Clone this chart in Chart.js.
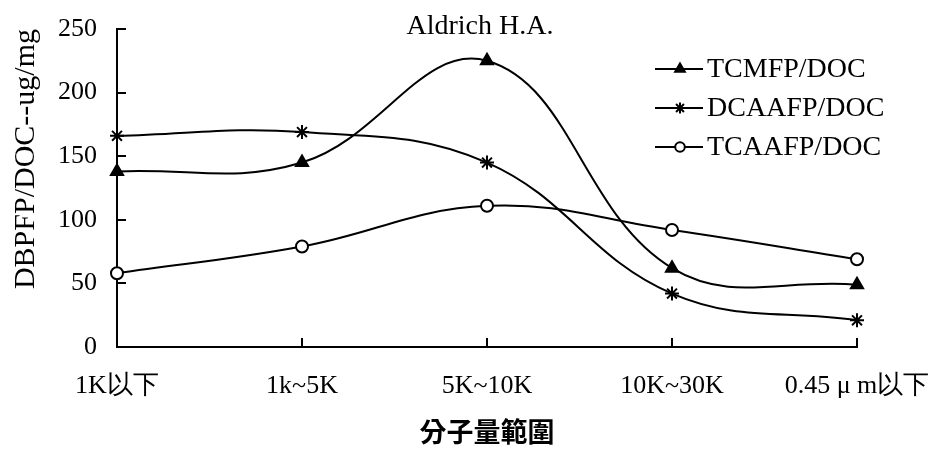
<!DOCTYPE html>
<html>
<head>
<meta charset="utf-8">
<script src="https://cdn.jsdelivr.net/npm/chart.js@4/dist/chart.umd.min.js"></script>
<style>
  html, body { margin: 0; padding: 0; background: #fff; }
  #wrap { width: 935px; height: 452px; }
</style>
</head>
<body>
<div id="wrap"><canvas id="c" width="935" height="452"></canvas></div>
<script>
// Molecular-weight fractions
const categories = ['1K以下', '1k~5K', '5K~10K', '10K~30K', '0.45 \u03bc m以下'];

// Formation potential per unit DOC (ug/mg)
const tcmfp  = [138, 145, 225, 62, 49];
const dcaafp = [166, 169, 145, 42, 21];
const tcaafp = [58, 79, 111, 92, 69];

const yTicks = [0, 50, 100, 150, 200, 250];

const chartTitle = 'Aldrich H.A.';
const yTitle = 'DBPFP/DOC--ug/mg';
const xTitle = '分子量範圍';

const serif = '"Liberation Serif", "DejaVu Serif", serif';

// Title text drawn above the plot
const titlePlugin = {
  id: 'plotTitle',
  afterDraw(chart) {
    const ctx = chart.ctx;
    ctx.save();
    ctx.fillStyle = '#000';
    ctx.font = '28px ' + serif;
    ctx.textAlign = 'center';
    ctx.textBaseline = 'alphabetic';
    ctx.fillText(chartTitle, 480, 34);
    ctx.restore();
  }
};

// Short tick marks pointing into the plot
const innerTicks = {
  id: 'innerTicks',
  afterDraw(chart) {
    const ctx = chart.ctx;
    const xs = chart.scales.x, ys = chart.scales.y;
    const area = chart.chartArea;
    ctx.save();
    ctx.strokeStyle = '#000';
    ctx.lineWidth = 2;
    ctx.beginPath();
    ys.ticks.forEach(t => {
      const py = Math.round(ys.getPixelForValue(t.value));
      ctx.moveTo(area.left, py);
      ctx.lineTo(area.left + 9, py);
    });
    categories.forEach((c, i) => {
      const px = Math.round(xs.getPixelForValue(i));
      ctx.moveTo(px, area.bottom);
      ctx.lineTo(px, area.bottom - 9);
    });
    ctx.stroke();
    ctx.restore();
  }
};

// Legend with line + marker samples, placed in the upper right of the plot
const lineLegend = {
  id: 'lineLegend',
  afterDraw(chart) {
    const ctx = chart.ctx;
    const rows = [69, 108, 147];
    ctx.save();
    chart.data.datasets.forEach((ds, i) => {
      const y = rows[i];
      ctx.strokeStyle = '#000';
      ctx.lineWidth = 2;
      ctx.beginPath();
      ctx.moveTo(655, y);
      ctx.lineTo(703, y);
      ctx.stroke();
      ctx.fillStyle = ds.pointBackgroundColor;
      ctx.strokeStyle = '#000';
      ctx.lineWidth = ds.pointBorderWidth;
      Chart.helpers.drawPoint(ctx, {
        pointStyle: ds.pointStyle,
        rotation: 0,
        radius: ds.pointRadius * 0.8,
        borderWidth: ds.pointBorderWidth
      }, 680, y);
      ctx.fillStyle = '#000';
      ctx.font = '28px ' + serif;
      ctx.textAlign = 'left';
      ctx.textBaseline = 'middle';
      ctx.fillText(ds.label, 707, y + 1);
    });
    ctx.restore();
  }
};

const common = {
  borderColor: '#000',
  borderWidth: 2,
  pointBorderColor: '#000',
  pointBorderWidth: 2,
  tension: 0.4,
  fill: false
};

new Chart(document.getElementById('c'), {
  type: 'line',
  data: {
    labels: categories,
    datasets: [
      Object.assign({}, common, {
        label: 'TCMFP/DOC', data: tcmfp,
        pointStyle: 'triangle', pointRadius: 7, pointBackgroundColor: '#000'
      }),
      Object.assign({}, common, {
        label: 'DCAAFP/DOC', data: dcaafp,
        pointStyle: 'star', pointRadius: 7, pointBackgroundColor: '#000'
      }),
      Object.assign({}, common, {
        label: 'TCAAFP/DOC', data: tcaafp,
        pointStyle: 'circle', pointRadius: 6, pointBackgroundColor: '#fff'
      })
    ]
  },
  options: {
    responsive: false,
    animation: false,
    layout: { padding: { top: 29, right: 78, left: 0, bottom: 0 } },
    plugins: {
      legend: { display: false },
      title: { display: false },
      tooltip: { enabled: false }
    },
    scales: {
      x: {
        offset: false,
        grid: { display: false, drawTicks: false },
        border: { display: true, color: '#000', width: 2 },
        ticks: {
          color: '#000',
          padding: 24,
          maxRotation: 0,
          autoSkip: false,
          font: { family: serif, size: 26 }
        },
        title: {
          display: true,
          text: xTitle,
          color: '#000',
          padding: { top: 0, bottom: 4 },
          font: { family: '"Noto Sans CJK TC", "Noto Sans CJK SC", sans-serif', size: 27, weight: 'bold' }
        },
        afterFit(s) {
          s.height = 105;
          s.paddingLeft = 0;
          s.paddingRight = 0;
        }
      },
      y: {
        min: 0,
        max: 250,
        afterBuildTicks(s) { s.ticks = yTicks.map(v => ({ value: v })); },
        grid: { display: false, drawTicks: false },
        border: { display: true, color: '#000', width: 2 },
        ticks: {
          color: '#000',
          padding: 20,
          font: { family: serif, size: 26 }
        },
        title: {
          display: true,
          text: yTitle,
          color: '#000',
          align: 'end',
          padding: { top: 8, bottom: 0 },
          font: { family: serif, size: 30 }
        },
        afterFit(s) {
          s.width = 117;
          s.paddingTop = 0;
          s.paddingBottom = 0;
        }
      }
    }
  },
  plugins: [titlePlugin, innerTicks, lineLegend]
});
</script>
</body>
</html>
